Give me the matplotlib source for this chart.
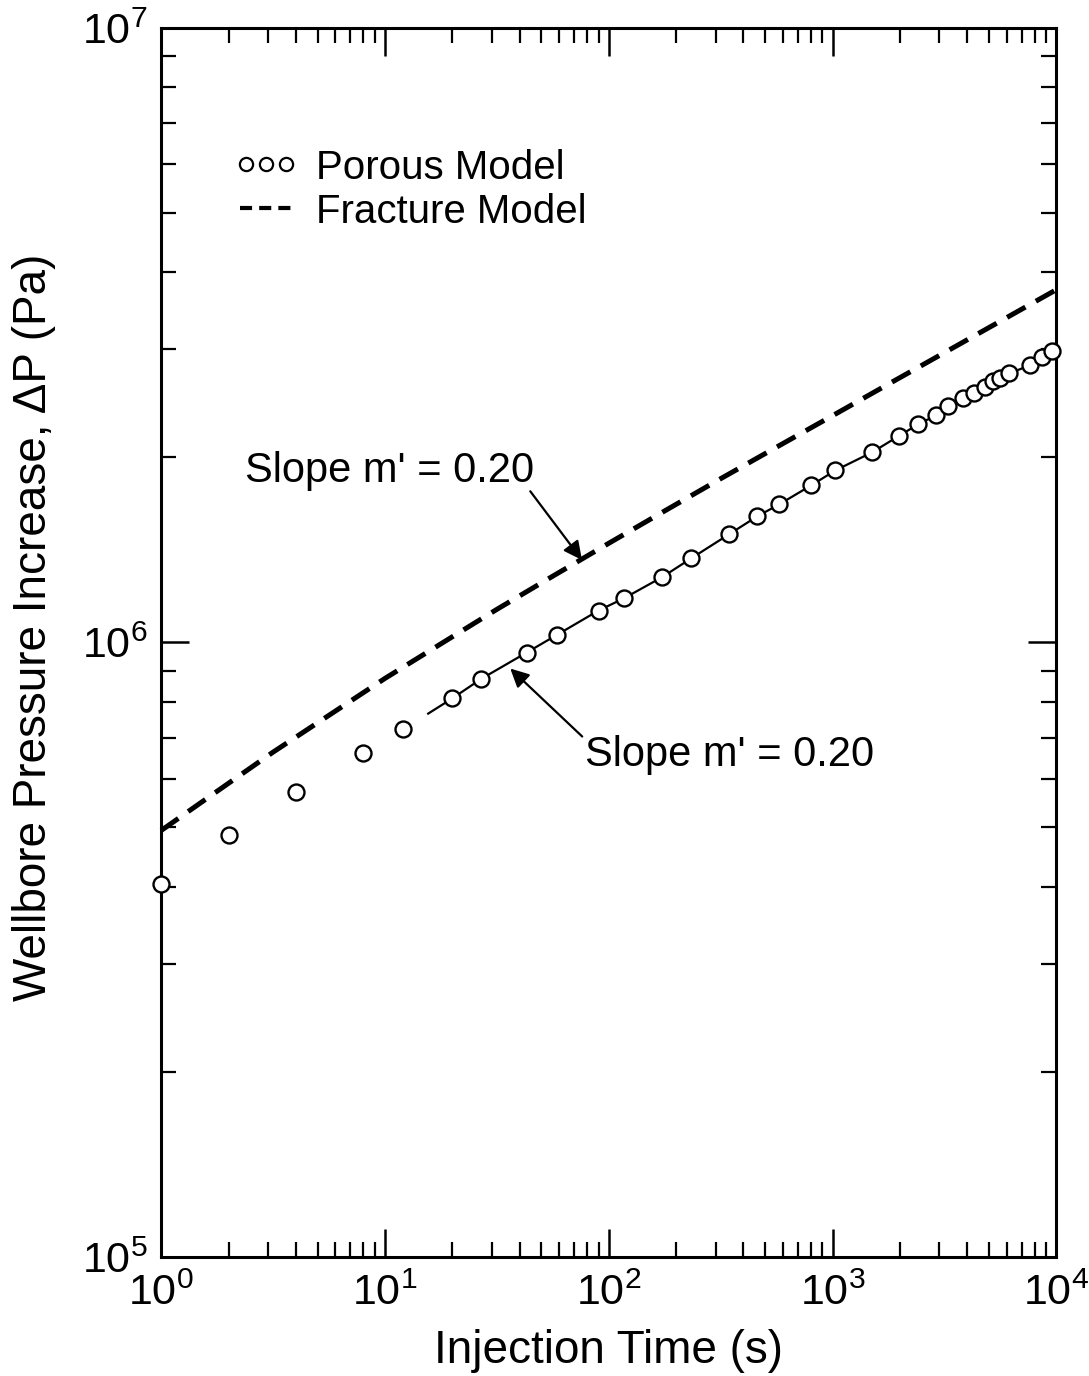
import matplotlib
matplotlib.use("Agg")
import matplotlib.pyplot as plt
from matplotlib.lines import Line2D
from matplotlib.legend_handler import HandlerLine2D

plt.rcParams['font.family'] = ['Liberation Sans', 'DejaVu Sans']
plt.rcParams['mathtext.fontset'] = 'custom'
plt.rcParams['mathtext.rm'] = 'Liberation Sans'
plt.rcParams['mathtext.it'] = 'Liberation Sans:italic'
plt.rcParams['mathtext.bf'] = 'Liberation Sans:bold'

# ---- data ----
porous_t = [1, 2, 4, 8, 12, 20, 27, 43, 59, 90, 117, 173, 234, 345, 461, 578,
            804, 1029, 1506, 1988, 2416, 2910, 3290, 3840, 4300, 4820, 5230,
            5620, 6170, 7650, 8650, 9600]
porous_p = [4.05e5, 4.86e5, 5.70e5, 6.62e5, 7.24e5, 8.11e5, 8.73e5, 9.63e5,
            1.03e6, 1.127e6, 1.18e6, 1.277e6, 1.371e6, 1.50e6, 1.604e6, 1.678e6,
            1.802e6, 1.905e6, 2.04e6, 2.17e6, 2.265e6, 2.343e6, 2.423e6, 2.495e6,
            2.545e6, 2.602e6, 2.66e6, 2.69e6, 2.742e6, 2.825e6, 2.91e6, 2.98e6]

fit_t = [15.6, 20, 27, 43, 59, 90, 117, 173, 234, 345, 461, 578, 804, 1029,
         1506, 1988, 2416, 2910, 3290, 3840, 4300, 4820, 5230, 5620, 6170,
         7650, 8650, 9600, 10000]
fit_p = [7.66e5, 8.11e5, 8.73e5, 9.63e5, 1.03e6, 1.127e6, 1.18e6, 1.277e6,
         1.371e6, 1.50e6, 1.604e6, 1.678e6, 1.802e6, 1.905e6, 2.04e6, 2.17e6,
         2.265e6, 2.343e6, 2.423e6, 2.495e6, 2.545e6, 2.602e6, 2.66e6, 2.69e6,
         2.742e6, 2.825e6, 2.91e6, 2.98e6, 3.0e6]

frac_t = [1, 1.778, 3.162, 5.623, 10, 17.78, 31.62, 56.23, 100, 177.8, 316.2,
          562.3, 1000, 1778, 3162, 5623, 10000]
frac_p = [4.943e5, 5.726e5, 6.630e5, 7.612e5, 8.740e5, 9.949e5, 1.132e6,
          1.282e6, 1.450e6, 1.637e6, 1.847e6, 2.079e6, 2.339e6, 2.633e6,
          2.962e6, 3.333e6, 3.750e6]

slope_label = "Slope m' = 0.20"
legend_labels = ["Porous Model", "Fracture Model"]

# ---- figure ----
fig = plt.figure(figsize=(10.89, 13.76), dpi=100)
ax = fig.add_axes([0.148, 0.0865, 0.822, 0.8932])
ax.set_xscale('log')
ax.set_yscale('log')
ax.set_xlim(1, 1e4)
ax.set_ylim(1e5, 1e7)

ax.plot(frac_t, frac_p, color='black', lw=3.6, dashes=(4.2, 2.4),
        dash_capstyle='butt', clip_on=False, zorder=3)
ax.plot(fit_t, fit_p, color='black', lw=1.6, zorder=3)
ax.plot(porous_t, porous_p, linestyle='none', marker='o', markersize=11.5,
        markerfacecolor='white', markeredgecolor='black', markeredgewidth=1.7,
        clip_on=False, zorder=4)

for s in ax.spines.values():
    s.set_linewidth(2.2)
ax.tick_params(which='both', direction='in', top=True, right=True, colors='black')
ax.tick_params(which='major', length=20, width=1.8, labelsize=31, pad=10)
ax.tick_params(which='minor', length=11, width=1.6)
ax.tick_params(axis='x', which='major', pad=12)

ax.set_xlabel("Injection Time (s)", fontsize=33, labelpad=11)
ax.set_ylabel("Wellbore Pressure Increase, \u0394P (Pa)", fontsize=33)
ax.yaxis.set_label_coords(-0.118, 0.512)

# annotations
arrow_kw = dict(arrowstyle='-|>', lw=1.6, color='black',
                mutation_scale=28, shrinkA=0, shrinkB=0)
ax.text(2.37, 1.90e6, slope_label, fontsize=30, va='center', ha='left')
ax.annotate("", xy=(75.9, 1.362e6), xytext=(44.6, 1.762e6), arrowprops=arrow_kw)
ax.text(78.5, 6.55e5, slope_label, fontsize=30, va='center', ha='left')
ax.annotate("", xy=(36.3, 9.07e5), xytext=(76.1, 7.03e5), arrowprops=arrow_kw)

h_por = Line2D([], [], linestyle='none', marker='o', markersize=9.5,
               markerfacecolor='white', markeredgecolor='black',
               markeredgewidth=1.6)
h_frac = Line2D([], [], color='black', lw=3.0, linestyle=(0, (2.9, 1.7)))
leg = ax.legend([h_por, h_frac], legend_labels, loc='upper left',
                bbox_to_anchor=(0.07, 0.915), frameon=False, fontsize=29,
                handlelength=1.3, handletextpad=0.6,
                labelspacing=0.15, borderaxespad=0,
                handler_map={h_por: HandlerLine2D(marker_pad=0.15, numpoints=3),
                             h_frac: HandlerLine2D(numpoints=1)})

fig.savefig("out.png", dpi=100)
